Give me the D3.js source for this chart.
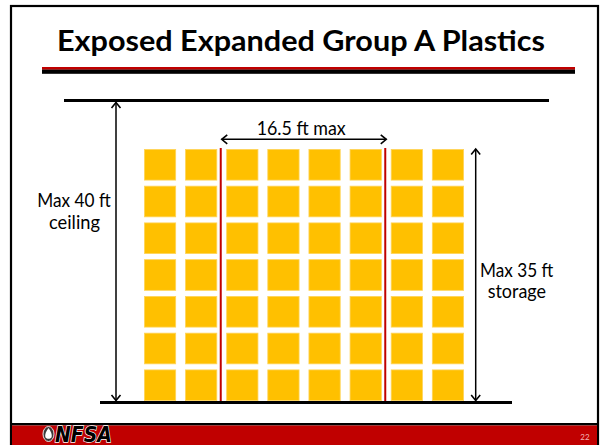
<!DOCTYPE html>
<html>
<head>
<meta charset="utf-8">
<script src="https://cdn.jsdelivr.net/npm/d3@7"></script>
<style>
  body { margin: 0; background: #fff; }
  svg { display: block; }
</style>
</head>
<body>
<svg id="slide"></svg>
<script>

var title = "Exposed Expanded Group A Plastics";
var rackColumns = ["c1", "c2", "c3", "c4", "c5", "c6", "c7", "c8"];
var rackTiers = ["t1", "t2", "t3", "t4", "t5", "t6", "t7"];
var flueColumns = ["c2", "c6"];          // red flue line right after these columns
var widthLabel = "16.5 ft max";
var ceilingLabel = ["Max 40 ft", "ceiling"];
var storageLabel = ["Max 35 ft", "storage"];
var logoText = "NFSA";
var pageNumber = "22";

var width = 600, height = 445;
var bodyFont = "Lato, 'Open Sans', sans-serif";
var bodySize = 18.4;

var svg = d3.select("#slide").attr("width", width).attr("height", height);

// slide frame + footer
svg.append("rect").attr("x", 11).attr("y", 6).attr("width", 587).attr("height", 445)
   .attr("fill", "#fff").attr("stroke", "#000").attr("stroke-width", 2.2);
svg.append("rect").attr("x", 12).attr("y", 423).attr("width", 585).attr("height", 2.5).attr("fill", "#000");
svg.append("rect").attr("x", 12).attr("y", 425.5).attr("width", 585).attr("height", 20).attr("fill", "#c00000");

// title
svg.append("text")
    .attr("x", 57).attr("y", 50.5)
    .attr("font-family", bodyFont).attr("font-weight", "bold")
    .attr("font-size", 28).attr("fill", "#000")
    .attr("textLength", 488).attr("lengthAdjust", "spacingAndGlyphs")
    .text(title);

svg.append("rect").attr("x", 42).attr("y", 69.3).attr("width", 533).attr("height", 4.5).attr("fill", "#000");
svg.append("rect").attr("x", 42).attr("y", 67).attr("width", 533).attr("height", 2.5).attr("fill", "#c00000");

// scales
var x = d3.scaleBand().domain(rackColumns).range([144, 464]).paddingInner(0.22);
var y = d3.scaleBand().domain(rackTiers).range([149, 401]).paddingInner(0.143);
var ceilingY = 100.5, floorY = 402.5;

// ceiling and floor
svg.append("line").attr("x1", 64).attr("x2", 549).attr("y1", ceilingY).attr("y2", ceilingY)
   .attr("stroke", "#000").attr("stroke-width", 3);
svg.append("line").attr("x1", 100).attr("x2", 512).attr("y1", floorY).attr("y2", floorY)
   .attr("stroke", "#000").attr("stroke-width", 3);

// storage boxes
var cells = [];
rackColumns.forEach(function(c) {
    rackTiers.forEach(function(t) { cells.push({col: c, tier: t}); });
});

svg.append("g").selectAll("rect")
    .data(cells)
    .enter().append("rect")
    .attr("x", function(d) { return x(d.col) + 0.4; })
    .attr("y", function(d) { return y(d.tier) + 0.4; })
    .attr("width", x.bandwidth() - 0.8)
    .attr("height", y.bandwidth() - 0.8)
    .attr("fill", "#ffc000")
    .attr("stroke", "#ffd45a")
    .attr("stroke-width", 0.8);

// flue lines
function flueX(c) {
    return x(c) + x.bandwidth() + (x.step() - x.bandwidth()) / 2 - 1;
}
svg.append("g").selectAll("line")
    .data(flueColumns)
    .enter().append("line")
    .attr("x1", flueX).attr("x2", flueX)
    .attr("y1", y(rackTiers[0]) - 1).attr("y2", floorY - 1.5)
    .attr("stroke", "#c00000").attr("stroke-width", 2);

// arrows
function arrowHead(px, py, dx, dy) {
    var s = 5.5, w = 4.5;
    var bx = px - dx * s, by = py - dy * s;
    svg.append("polyline")
       .attr("points", [[bx - dy * w, by + dx * w], [px, py], [bx + dy * w, by - dx * w]].join(" "))
       .attr("fill", "none").attr("stroke", "#000").attr("stroke-width", 1.6);
}
function arrow(x1, y1, x2, y2) {
    svg.append("line").attr("x1", x1).attr("y1", y1).attr("x2", x2).attr("y2", y2)
       .attr("stroke", "#000").attr("stroke-width", 1.5);
    var len = Math.hypot(x2 - x1, y2 - y1), dx = (x2 - x1) / len, dy = (y2 - y1) / len;
    arrowHead(x2, y2, dx, dy);
    arrowHead(x1, y1, -dx, -dy);
}

arrow(116, ceilingY + 2, 116, floorY - 2);
arrow(475.7, y(rackTiers[0]), 475.7, floorY - 2);
arrow(flueX(flueColumns[0]) + 1, 139.3, flueX(flueColumns[1]) + 1, 139.3);

// labels (x, baseline, width as in the slide)
function label(txt, x0, y0, w) {
    svg.append("text").attr("x", x0).attr("y", y0)
       .attr("font-family", bodyFont).attr("font-size", bodySize)
       .attr("textLength", w).attr("lengthAdjust", "spacingAndGlyphs")
       .text(txt);
}
label(widthLabel, 256.7, 135, 89);
label(ceilingLabel[0], 37.3, 206.7, 73.4);
label(ceilingLabel[1], 49, 229, 51);
label(storageLabel[0], 480, 276.7, 73.3);
label(storageLabel[1], 487.7, 298.3, 58.3);

// footer logo
var logo = svg.append("g");
logo.append("ellipse").attr("cx", 48.5).attr("cy", 434).attr("rx", 5.5).attr("ry", 7.5)
    .attr("fill", "#3a3a3a").attr("stroke", "#e6e6e6").attr("stroke-width", 1);
logo.append("path")
    .attr("d", "M48.5,428 C51,431.5 52.2,434.5 51.7,436.8 C51.2,439.5 45.8,439.5 45.3,436.8 C44.8,434.5 46,431.5 48.5,428 Z")
    .attr("fill", "#fff");
logo.append("text")
    .attr("x", 55).attr("y", 441.5)
    .attr("font-family", "'DejaVu Sans', sans-serif").attr("font-weight", "bold")
    .attr("font-style", "italic").attr("font-size", 21)
    .attr("fill", "#000").attr("stroke", "#fff").attr("stroke-width", 1.4)
    .attr("paint-order", "stroke")
    .attr("textLength", 57).attr("lengthAdjust", "spacingAndGlyphs")
    .text(logoText);

svg.append("text").attr("x", 585).attr("y", 440).attr("text-anchor", "middle")
   .attr("font-family", bodyFont).attr("font-size", 8).attr("fill", "#f2b6b6")
   .text(pageNumber);
</script>
</body>
</html>
